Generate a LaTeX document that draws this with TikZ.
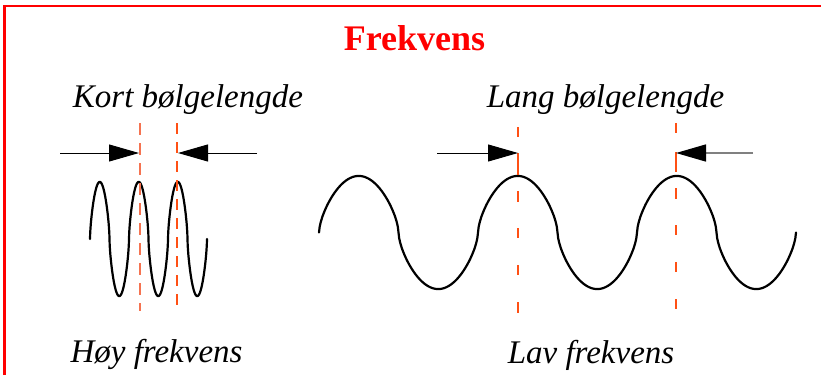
\documentclass[tikz,border=0pt]{standalone}
\usepackage{fontspec}
\setmainfont{Liberation Serif}
\usetikzlibrary{arrows.meta}
\definecolor{framered}{RGB}{255,0,0}
\definecolor{dashlight}{RGB}{245,115,80}
\definecolor{dashdark}{RGB}{255,80,20}
\definecolor{arrowgray}{RGB}{128,128,128}
\begin{document}
\begin{tikzpicture}[x=1pt,y=-1pt,
  lbl/.style={font=\fontsize{33}{40}\selectfont\itshape, inner sep=0pt, anchor=base},
  ttl/.style={font=\fontsize{36}{43}\selectfont\bfseries, text=framered, inner sep=0pt, anchor=base},
  wave/.style={line width=2.2pt, line join=round, line cap=round},
  dimarrow/.style={line width=1pt, -{Triangle[length=30pt,width=17pt,color=black]}},
  guideA/.style={line width=1.5pt, dashlight, dash pattern=on 12pt off 8pt},
  guideB/.style={line width=1.3pt, dashdark, dash pattern=on 11pt off 8pt},
  frame/.style={framered, line width=2.5pt}
]
\useasboundingbox (0,0) rectangle (821,375);

% frame
\draw[frame] (4.5,375) -- (4.5,6) -- (821,6);

% texts
\node[ttl] (title) at (414.5,50) {Frekvens};
\node[lbl] (kort) at (188,107) {Kort bølgelengde};
\node[lbl] (lang) at (605.5,107) {Lang bølgelengde};
\node[lbl] (hoy) at (156.5,362) {Høy frekvens};
\node[lbl] (lav) at (591,363) {Lav frekvens};

% waves
\draw[wave] plot[domain=0:1080,samples=721,variable=\t]
  ({90+\t/360*39},{239-57*sign(sin(\t))*exp(0.66*ln(abs(sin(\t))+0.001))});
\draw[wave] plot[domain=0:1080,samples=721,variable=\t]
  ({319+\t/360*159},{232.5-56.5*sign(sin(\t))*exp(0.64*ln(abs(sin(\t))+0.001))});

% guide lines
\coordinate (g1t) at (140,123); \coordinate (g1b) at (140,311);
\coordinate (g2t) at (177,123);   \coordinate (g2b) at (177,311);
\coordinate (g3t) at (518,127);   \coordinate (g3b) at (518,313);
\coordinate (g4t) at (676,123);   \coordinate (g4b) at (676,310);
\draw[guideA] (g1t) -- (g1b);
\draw[guideB] (g2t) -- (g2b);
\draw[line width=1.2pt, dashdark, dash pattern=on 10pt off 16pt on 22pt off 16pt on 11pt off 26pt on 10pt off 27pt on 10pt off 27pt on 11pt off 20pt] (g3t) -- (g3b);
\draw[line width=1.2pt, dashdark, dash pattern=on 10pt off 19pt on 20pt off 16pt on 11pt off 26pt on 10pt off 27pt on 10pt off 27pt on 10pt off 20pt] (g4t) -- (g4b);

% arrows
\coordinate (a1s) at (60,153);  \coordinate (a1e) at (139,153);
\coordinate (a2s) at (257,153); \coordinate (a2e) at (178,153);
\coordinate (a3s) at (437,153); \coordinate (a3e) at (518,153);
\coordinate (a4s) at (753,153); \coordinate (a4e) at (676,153);
\draw[dimarrow] (a1s) -- (a1e);
\draw[dimarrow] (a2s) -- (a2e);
\draw[dimarrow] (a3s) -- (a3e);
\draw[dimarrow, arrowgray, line width=1.5pt] (a4s) -- (a4e);
\end{tikzpicture}
\end{document}
